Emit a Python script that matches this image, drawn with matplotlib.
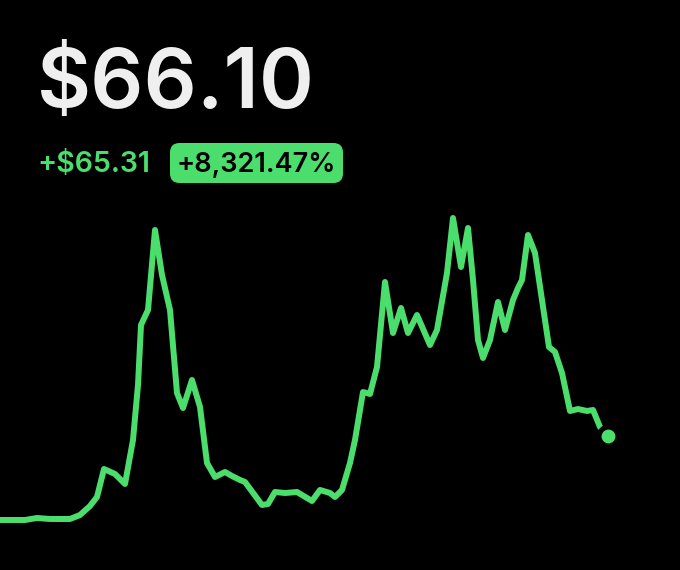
import matplotlib
matplotlib.use("Agg")
import matplotlib.pyplot as plt
from matplotlib.patches import FancyBboxPatch

# price history (day index, price in $)
days = [0, 25, 37, 50, 70, 80, 90, 97, 104, 115, 125, 133, 138, 141, 148, 155,
        162, 170, 177, 183, 192, 200, 207, 215, 225, 232, 240, 245, 262, 268,
        275, 285, 297, 312, 320, 330, 335, 342, 350, 355, 363, 370, 377, 385,
        393, 401, 408, 417, 430, 437, 447, 453, 461, 468, 473, 478, 483, 490,
        498, 505, 513, 518, 522, 528, 535, 542, 549, 555, 562, 570, 578, 587,
        593, 600, 608]
prices = [0.79, 0.79, 2.35, 1.57, 1.57, 4.68, 11.68, 18.67, 40.44, 36.56, 28.78,
          62.99, 105.75, 152.40, 164.07, 226.27, 191.28, 164.07, 99.53, 87.87,
          109.64, 88.65, 45.11, 34.22, 38.11, 35.00, 31.89, 30.34, 12.45, 13.23,
          22.56, 21.78, 22.56, 15.56, 24.12, 21.78, 18.67, 24.12, 45.11, 62.99,
          100.31, 98.76, 119.75, 185.84, 146.18, 165.62, 146.18, 160.18, 136.85,
          148.52, 192.83, 235.59, 197.50, 227.82, 187.39, 140.74, 126.75, 140.74,
          170.29, 148.52, 171.84, 181.17, 187.39, 222.38, 208.38, 171.84, 135.30,
          131.41, 115.08, 85.54, 87.09, 85.54, 86.32, 73.10, 66.10]

price_text = "$66.10"
change_text = "+$65.31"
pct_text = "+8,321.47%"

green = "#4cde6c"
W, H = 680, 570

fig = plt.figure(figsize=(6.8, 5.7), dpi=100, facecolor="black")
ax = fig.add_axes([0, 0, 1, 1])
ax.set_facecolor("black")

ax.plot(days, prices, color=green, lw=4.3, solid_capstyle="round",
        solid_joinstyle="round", zorder=2)
ax.scatter(days[-1], prices[-1], s=185, color=green, edgecolors="black",
           linewidths=3.6, zorder=3)

ax.set_xlim(0, 680)
ax.set_ylim(-38.09, 405.09)
ax.axis("off")

# header texts (pixel positions)
fig.text(37 / W, 1 - 108 / H, price_text, color="#efefef", fontsize=60,
         family="Inter", fontweight="semibold", va="baseline", ha="left")
fig.text(37 / W, 1 - 172 / H, change_text, color=green, fontsize=20.5,
         family="Inter", fontweight="semibold", va="baseline", ha="left")

box = FancyBboxPatch((170 / W, 1 - 183 / H), 173 / W, 40 / H,
                     boxstyle="round,pad=0,rounding_size=0.014",
                     transform=fig.transFigure, facecolor=green,
                     edgecolor="none", mutation_aspect=W / H)
fig.patches.append(box)
fig.text(256 / W, 1 - 172 / H, pct_text, color="black", fontsize=19.5,
         family="Inter", fontweight="semibold", va="baseline", ha="center")

fig.savefig("out.png", dpi=100, facecolor="black")
